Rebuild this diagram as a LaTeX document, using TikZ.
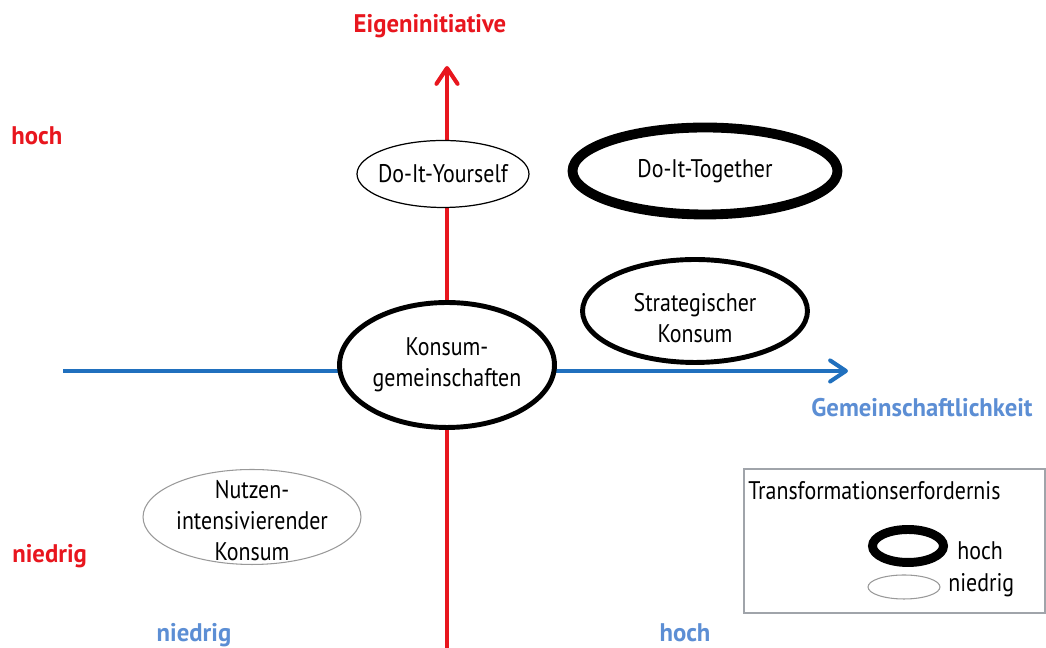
\documentclass[tikz,border=0pt]{standalone}
\usepackage{fontspec}
\setmainfont[FakeStretch=0.86]{PT Sans}
\newfontfamily\achsfont[FakeStretch=0.97]{PT Sans}
\usetikzlibrary{
	shapes.geometric,   %椭圆
	positioning,        %定位
	arrows.meta         %箭头
}
\definecolor{achsrot}{RGB}{232,22,30}
\definecolor{achsblau}{RGB}{32,112,190}
\definecolor{textblau}{RGB}{92,142,212}
\definecolor{rahmengrau}{RGB}{160,164,170}
\tikzstyle{oval}=[ellipse,
draw,
fill=white,
inner sep=0pt]
\tikzstyle{txt}=[inner sep=0pt,
align=center]
\tikzset{
	every picture/.style={
		>={Straight Barb[length=9pt,width=12pt,line join=round,line cap=round]},
		node distance=2mm and 2mm
	},
	every node/.style={font=\fontsize{14.5pt}{17.6pt}\selectfont},
	achstxt/.style={txt,font=\fontsize{14.5pt}{17.6pt}\achsfont\bfseries},
	achse/.style={line width=2.3pt,->},
	hochoval/.style={oval,line width=5.6pt},
	mitteloval/.style={oval,line width=2.8pt},
	duennoval/.style={oval,line width=0.7pt},
	grauoval/.style={oval,draw=gray!80,line width=0.6pt}
}
\begin{document}
\begin{tikzpicture}[x=0.02cm,y=0.02cm]
\useasboundingbox (0,0) rectangle (1046,648);
% Achsen
\coordinate (yu) at (447,0);
\coordinate (yo) at (447,582);
\coordinate (xl) at (63,277);
\coordinate (xr) at (848,277);
\draw[achse,achsrot] (yu) -- (yo);
\draw[achse,achsblau] (xl) -- (xr);
\node[achstxt,achsrot,anchor=base] (eigen) at (430,615) {Eigeninitiative};
\node[achstxt,textblau,anchor=base] (gemein) at (922,231) {Gemeinschaftlichkeit};
\node[achstxt,achsrot,anchor=base west] (yhoch) at (11,503) {hoch};
\node[achstxt,achsrot,anchor=base west] (yniedrig) at (12,85) {niedrig};
\node[achstxt,textblau,anchor=base] (xniedrig) at (194,6) {niedrig};
\node[achstxt,textblau,anchor=base] (xhoch) at (685,6) {hoch};
% Konsumformen
\node[duennoval,minimum width=3.44cm,minimum height=1.34cm] (diy) at (443,474) {};
\node[txt] (diyt) at (diy) {Do-It-Yourself};
\node[hochoval,minimum width=5.3cm,minimum height=1.74cm] (dit) at (705,477) {};
\node[txt] (ditt) at (dit) {Do-It-Together};
\node[mitteloval,minimum width=4.5cm,minimum height=2.06cm] (sk) at (695,337) {};
\node[txt] (skt) at ([yshift=-0.15cm]sk) {Strategischer\\Konsum};
\node[mitteloval,minimum width=4.3cm,minimum height=2.5cm] (kg) at (447,283) {};
\node[txt] (kgt) at (kg) {Konsum-\\gemeinschaften};
\node[grauoval,minimum width=4.36cm,minimum height=1.9cm] (nk) at (252,131) {};
\node[txt] (nkt) at ([yshift=-0.08cm]nk) {Nutzen-\\intensivierender\\Konsum};
% Legende
\node[draw=rahmengrau,line width=0.85pt,minimum width=6.02cm,minimum height=2.88cm] (legende) at (894.5,107) {};
\node[txt,anchor=base west] (legtitel) at (748,148) {Transformationserfordernis};
\node[hochoval,line width=5.1pt,minimum width=1.42cm,minimum height=0.66cm] (leghoch) at (908,102) {};
\node[txt,anchor=base west] (leghocht) at (957,88) {hoch};
\node[grauoval,minimum width=1.44cm,minimum height=0.48cm] (legniedrig) at (904,61) {};
\node[txt,anchor=base west] (legniedrigt) at (948,56) {niedrig};
\end{tikzpicture}
\end{document}
